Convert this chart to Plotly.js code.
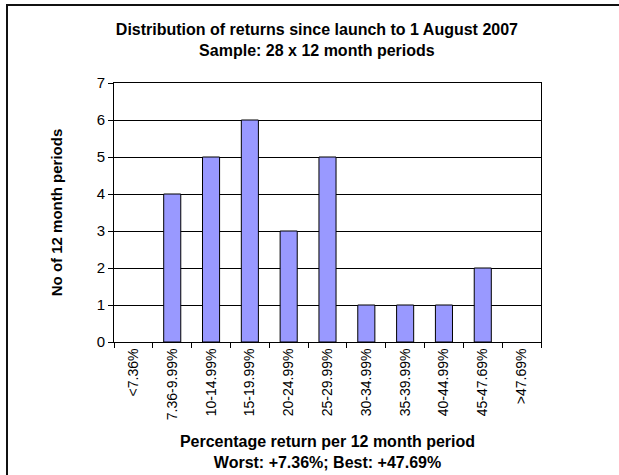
<!DOCTYPE html>
<html>
<head>
<meta charset="utf-8">
<script src="https://cdn.plot.ly/plotly-3.0.1.min.js"></script>
<style>
  html, body { margin: 0; padding: 0; background: #fff; overflow: hidden; }
  #wrap { position: relative; width: 619px; height: 475px; overflow: hidden; }
  #chart { position: absolute; left: 0; top: 0; width: 619px; height: 475px; }
  #frame { position: absolute; left: 6px; top: 4px; width: 700px; height: 600px;
           border-left: 2px solid #111; border-top: 2px solid #111; pointer-events: none; }
</style>
</head>
<body>
<div id="wrap">
  <div id="chart"></div>
  <div id="frame"></div>
</div>
<script>
// Return bands (12-month periods) and how many periods fell in each band
const bands = ["<7.36%", "7.36-9.99%", "10-14.99%", "15-19.99%", "20-24.99%",
               "25-29.99%", "30-34.99%", "35-39.99%", "40-44.99%", "45-47.69%", ">47.69%"];
const periodCounts = [0, 4, 5, 6, 3, 5, 1, 1, 1, 2, 0];
const yTicks = [0, 1, 2, 3, 4, 5, 6, 7];

const FONT = "Liberation Sans, Arial, sans-serif";

const trace = {
  type: "bar",
  x: bands,
  y: periodCounts,
  marker: {
    color: "#9999FF",
    // empty bands get no outline so nothing shows on the baseline
    line: { color: "#000000", width: periodCounts.map(v => (v > 0 ? 1 : 0)) }
  },
  hoverinfo: "x+y"
};

const layout = {
  width: 619,
  height: 475,
  paper_bgcolor: "#ffffff",
  plot_bgcolor: "#ffffff",
  margin: { l: 114, r: 78, t: 83, b: 133 },
  bargap: 0.56,
  showlegend: false,
  font: { family: FONT, color: "#000000", size: 13 },
  title: {
    text: "<b>Distribution of returns since launch to 1 August 2007</b><br><b>Sample: 28 x 12 month periods</b>",
    font: { family: FONT, size: 16, color: "#000000" },
    xref: "container", x: 0.512, xanchor: "center",
    yref: "container", y: 0.926, yanchor: "top"
  },
  xaxis: {
    type: "category",
    tickangle: -90,
    tickson: "boundaries",
    ticks: "outside",
    ticklen: 5,
    tickcolor: "#000000",
    tickfont: { family: FONT, size: 14, color: "#000000" },
    showline: true, linecolor: "#000000", linewidth: 1, mirror: true,
    showgrid: false,
    automargin: false,
    title: {
      text: "<b>Percentage return per 12 month period</b><br><b>Worst: +7.36%; Best: +47.69%</b>",
      font: { family: FONT, size: 16, color: "#000000" },
      standoff: 16
    }
  },
  yaxis: {
    range: [0, 7],
    tickvals: yTicks,
    ticktext: yTicks.map(String),
    ticks: "outside",
    ticklen: 5,
    tickcolor: "#000000",
    tickfont: { family: FONT, size: 15, color: "#000000" },
    showline: true, linecolor: "#000000", linewidth: 1, mirror: true,
    showgrid: true, gridcolor: "#000000", gridwidth: 1,
    zeroline: false,
    automargin: false,
    title: {
      text: "<b>No of 12 month periods</b>",
      font: { family: FONT, size: 15, color: "#000000" },
      standoff: 30
    }
  }
};

Plotly.newPlot("chart", [trace], layout, { staticPlot: true, displayModeBar: false });
</script>
</body>
</html>
